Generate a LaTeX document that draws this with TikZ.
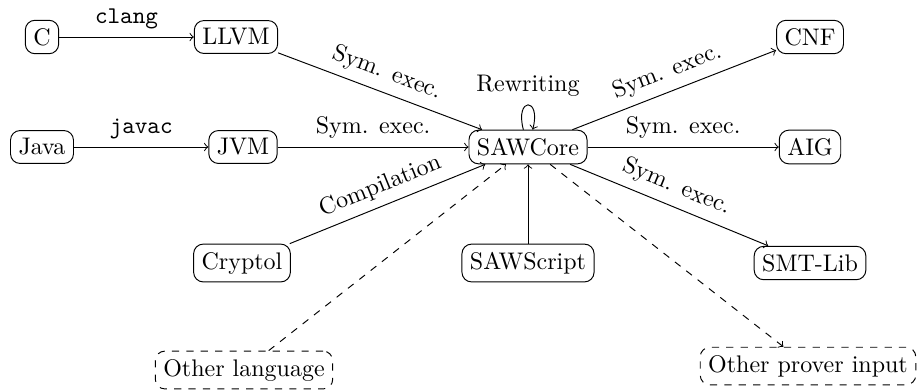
\documentclass[tikz,border=0pt]{standalone}
\begin{document}
\begin{tikzpicture}[x=0.4167pt,y=-0.4167pt,
  box/.style={draw,rounded corners=4pt,inner sep=3.33pt},
  dbox/.style={box,dashed},
  conn/.style={->},
  dconn/.style={->,dashed}]
\useasboundingbox (0,0) rectangle (918,390);
\node[box] (c) at (42,37) {C};
\node[box] (llvm) at (236,37) {LLVM};
\node[box] (cnf) at (810,37) {CNF};
\node[box] (java) at (42,147) {Java};
\node[box] (jvm) at (243,147) {JVM};
\node[box] (saw) at (528,147) {SAWCore};
\node[box] (aig) at (810,147) {AIG};
\node[box] (cry) at (242,263) {Cryptol};
\node[box] (ss) at (528,263) {SAWScript};
\node[box] (smt) at (810,263) {SMT-Lib};
\node[dbox] (ol) at (244,370) {Other language};
\node[dbox] (op) at (808,366) {Other prover input};
\draw[conn] (c) -- node[above] {\texttt{clang}} (llvm);
\draw[conn] (java) -- node[above] {\texttt{javac}} (jvm);
\draw[conn] (llvm) -- node[above,sloped] {Sym. exec.} (saw);
\draw[conn] (jvm) -- node[above] {Sym. exec.} (saw);
\draw[conn] (cry) -- node[above,sloped] {Compilation} (saw);
\draw[conn] (ss) -- (saw);
\draw[conn] (saw) to[loop above] node[above] {Rewriting} (saw);
\draw[conn] (saw) -- node[above,sloped] {Sym. exec.} (cnf);
\draw[conn] (saw) -- node[above] {Sym. exec.} (aig);
\draw[conn] (saw) -- node[above,sloped] {Sym. exec.} (smt);
\draw[dconn] (ol) -- (saw);
\draw[dconn] (saw) -- (op);
\end{tikzpicture}
\end{document}
